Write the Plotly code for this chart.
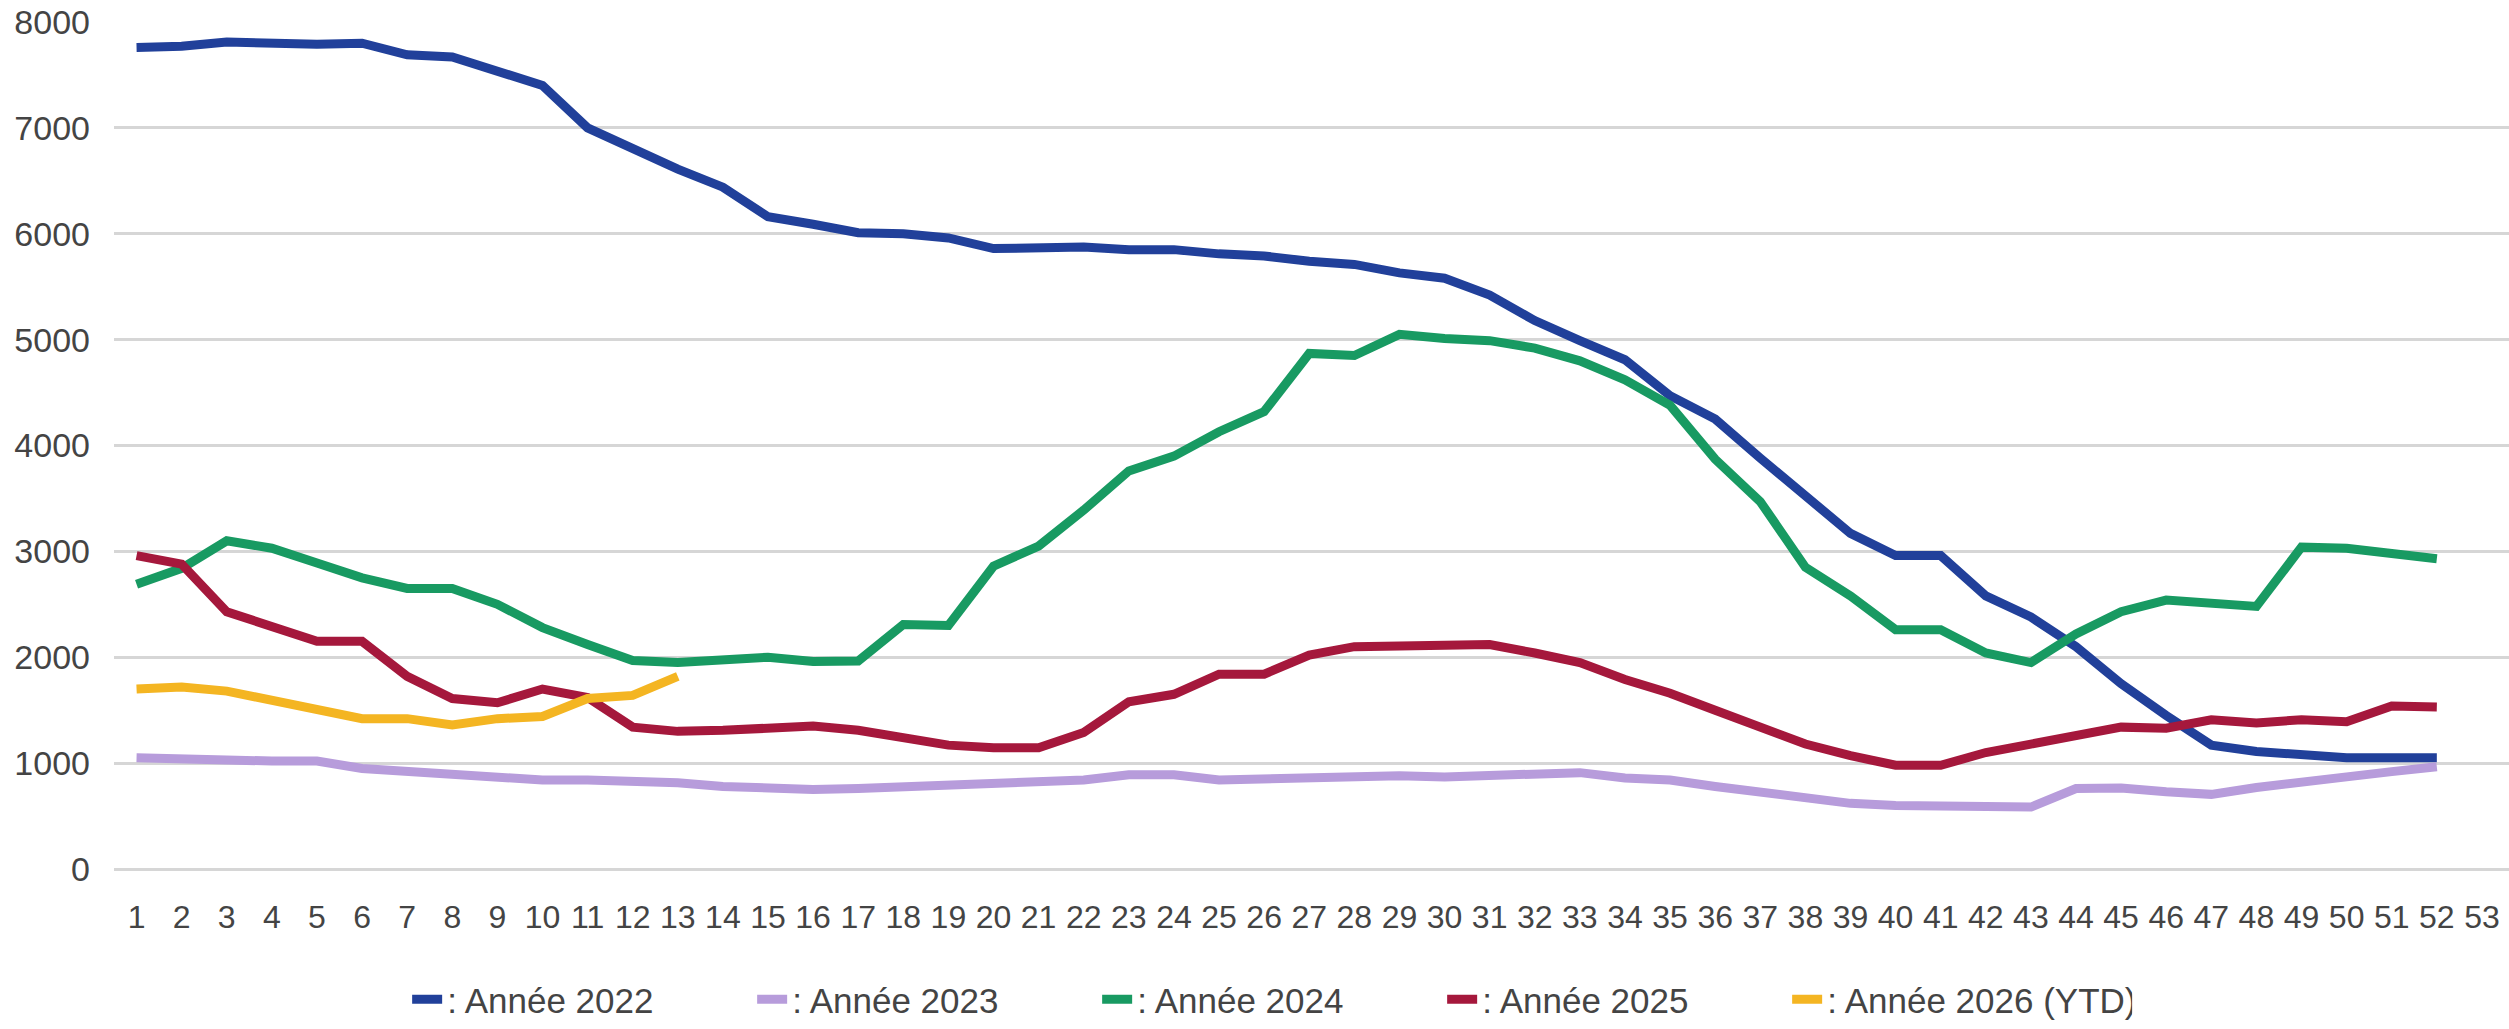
import plotly.graph_objects as go

weeks = list(range(1, 53))
weeks_2026 = list(range(1, 14))
tick_weeks = list(range(1, 54))

annee_2022 = [7760, 7770, 7810, 7790, 7790, 7800, 7690, 7670, 7530, 7400,
              7000, 6800, 6610, 6440, 6160, 6090, 6010, 6000, 5960, 5860,
              5870, 5875, 5850, 5850, 5810, 5790, 5740, 5710, 5630, 5580,
              5420, 5180, 4990, 4810, 4470, 4250, 3880, 3530, 3170, 2960,
              2960, 2580, 2380, 2100, 1750, 1450, 1170, 1110, 1080, 1050,
              1050, 1050]

annee_2023 = [1050, 1030, 1030, 1020, 1020, 950, 920, 880, 860, 840,
              840, 830, 815, 780, 760, 750, 760, 780, 800, 800,
              820, 840, 890, 890, 840, 850, 870, 880, 880, 870,
              890, 910, 910, 860, 840, 780, 730, 670, 620, 600,
              600, 590, 585, 760, 765, 730, 705, 770, 830, 870,
              920, 965]

annee_2024 = [2690, 2840, 3100, 3030, 2890, 2750, 2650, 2650, 2500, 2280,
              2120, 1970, 1950, 1970, 2000, 1960, 1965, 2310, 2300, 2860,
              3050, 3390, 3760, 3900, 4130, 4320, 4870, 4850, 5050, 5010,
              4990, 4920, 4800, 4620, 4380, 3870, 3470, 2850, 2580, 2260,
              2260, 2040, 1950, 2220, 2430, 2540, 2500, 2480, 3040, 3030,
              2980, 2930]

annee_2025 = [2960, 2880, 2430, 2290, 2150, 2150, 1820, 1610, 1570, 1700,
              1620, 1340, 1300, 1310, 1340, 1350, 1310, 1240, 1170, 1145,
              1145, 1290, 1580, 1650, 1840, 1840, 2020, 2100, 2110, 2110,
              2120, 2040, 1950, 1790, 1660, 1500, 1340, 1180, 1070, 980,
              980, 1100, 1180, 1250, 1340, 1330, 1410, 1380, 1410, 1390,
              1540, 1530]

annee_2026 = [1700, 1720, 1680, 1590, 1520, 1420, 1420, 1360, 1420, 1440,
              1610, 1640, 1820]

y_ticks = [0, 1000, 2000, 3000, 4000, 5000, 6000, 7000, 8000]

series = [
    (": Année 2022", weeks, annee_2022, "#21409A"),
    (": Année 2023", weeks, annee_2023, "#B79CDB"),
    (": Année 2024", weeks, annee_2024, "#189A62"),
    (": Année 2025", weeks, annee_2025, "#A5183C"),
    (": Année 2026 (YTD)", weeks_2026, annee_2026, "#F4B522"),
]

fig = go.Figure()
for name, xs, ys, color in series:
    fig.add_trace(go.Scatter(
        x=xs, y=ys, name=name, mode="lines",
        line=dict(color=color, width=9),
        hoverinfo="skip",
    ))

FONT = "Liberation Sans, Arial, sans-serif"

fig.update_layout(
    width=2509, height=1029,
    paper_bgcolor="white", plot_bgcolor="white",
    margin=dict(l=114, r=0, t=22, b=151),
    font=dict(family=FONT, color="#444444"),
    showlegend=True,
    hovermode=False,
    legend=dict(
        orientation="h",
        x=0.1224, xanchor="left",
        y=-0.154, yanchor="middle",
        font=dict(size=35, color="#444444", family=FONT),
        itemwidth=30,
        entrywidth=300,
        traceorder="normal",
    ),
    xaxis=dict(
        range=[0.5, 53.6],
        tickmode="array", tickvals=tick_weeks,
        ticktext=[str(w) for w in tick_weeks],
        showgrid=False, zeroline=False, showline=False,
        ticks="", ticklabelstandoff=26, automargin=False,
        tickfont=dict(size=32, color="#444444", family=FONT),
        fixedrange=True,
    ),
    yaxis=dict(
        range=[0, 8000],
        tickmode="array", tickvals=y_ticks,
        showgrid=True, gridcolor="#D6D6D6", gridwidth=3,
        zeroline=True, zerolinecolor="#D6D6D6", zerolinewidth=3,
        showline=False, ticks="", ticklabelstandoff=23, automargin=False,
        tickfont=dict(size=34, color="#444444", family=FONT),
        fixedrange=True,
    ),
)

fig.write_html(
    "out.html",
    config={"displayModeBar": False, "staticPlot": True},
    post_script="document.body.style.margin='0';document.body.style.overflow='hidden';",
)
